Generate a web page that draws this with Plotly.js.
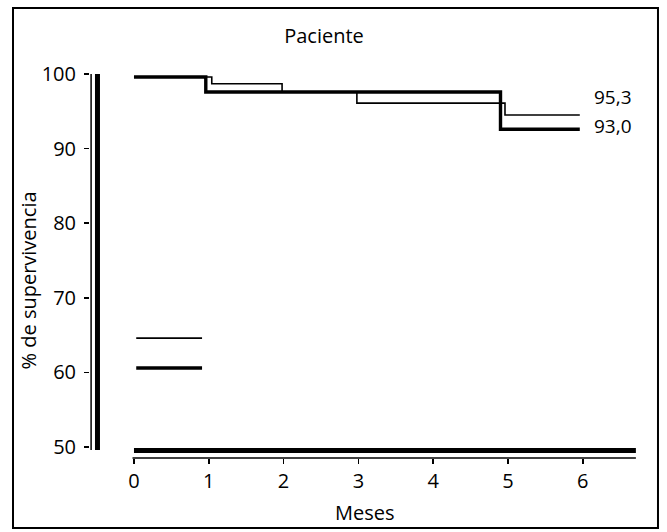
<!DOCTYPE html>
<html>
<head>
<meta charset="utf-8">
<script src="https://cdn.plot.ly/plotly-3.0.1.min.js"></script>
<style>html,body{margin:0;padding:0;background:#fff;}#chart{width:667px;height:532px;}</style>
</head>
<body>
<div id="chart"></div>
<script>
// ---- data ----
var xTicks = [0, 1, 2, 3, 4, 5, 6];
var yTicks = [50, 60, 70, 80, 90, 100];

// thin curve (ends 95,3)
var thinX = [0, 1.04, 1.98, 2.98, 4.96, 5.96];
var thinY = [99.6, 98.7, 97.6, 96.1, 94.5, 94.5];

// thick curve (ends 93,0)
var thickX = [0, 0.96, 4.90, 5.96];
var thickY = [99.6, 97.6, 92.6, 92.6];

// legend sample lines (no text)
var keyX = [0.03, 0.91];
var keyThinY = [64.6, 64.6];
var keyThickY = [60.6, 60.6];

var endLabels = ['95,3', '93,0'];
var endLabelY = [96.9, 93.0];

var titleText = 'Paciente';
var xTitle = 'Meses';
var yTitle = '% de supervivencia';

var FONT = '"Open Sans", Lato, sans-serif';
var FS = 20;

var traces = [
  {x: thinX, y: thinY, mode: 'lines', line: {shape: 'hv', color: '#000', width: 1.6}, hoverinfo: 'skip'},
  {x: thickX, y: thickY, mode: 'lines', line: {shape: 'hv', color: '#000', width: 3.4}, hoverinfo: 'skip'},
  {x: keyX, y: keyThinY, mode: 'lines', line: {color: '#000', width: 1.6}, hoverinfo: 'skip'},
  {x: keyX, y: keyThickY, mode: 'lines', line: {color: '#000', width: 3.4}, hoverinfo: 'skip'}
];

var annotations = [
  {text: endLabels[0], x: 6.14, y: endLabelY[0], xref: 'x', yref: 'y', xanchor: 'left', yanchor: 'middle', showarrow: false, borderpad: 0, font: {family: FONT, size: 19, color: '#000'}},
  {text: endLabels[1], x: 6.14, y: endLabelY[1], xref: 'x', yref: 'y', xanchor: 'left', yanchor: 'middle', showarrow: false, borderpad: 0, font: {family: FONT, size: 19, color: '#000'}},
  {text: yTitle, x: -0.112, y: 0.447, xref: 'paper', yref: 'paper', textangle: -90, xanchor: 'center', yanchor: 'middle', showarrow: false, font: {family: FONT, size: FS, color: '#000'}},
  {text: xTitle, x: 0.5, y: -0.138, xref: 'paper', yref: 'paper', xanchor: 'center', yanchor: 'middle', showarrow: false, font: {family: FONT, size: FS, color: '#000'}}
];

var shapes = [
  // frame
  {type: 'rect', xref: 'paper', yref: 'paper', x0: -0.14, x1: 1.0327, y0: -0.176, y1: 1.1307, line: {color: '#000', width: 2}},
  // y axis: thin line + thick bar
  {type: 'line', xref: 'paper', yref: 'y', x0: 0.002, x1: 0.002, y0: 49.6, y1: 100, line: {color: '#000', width: 1.5}},
  {type: 'line', xref: 'paper', yref: 'y', x0: 0.0136, x1: 0.0136, y0: 49.6, y1: 100, line: {color: '#000', width: 5}},
  // x axis: thin line + thick bar
  {type: 'line', xref: 'x', yref: 'paper', x0: -0.02, x1: 6.71, y0: 0, y1: 0, line: {color: '#000', width: 1.5}},
  {type: 'line', xref: 'x', yref: 'paper', x0: 0, x1: 6.71, y0: 0.0188, y1: 0.0188, line: {color: '#000', width: 5}}
];

var layout = {
  width: 667, height: 532,
  margin: {l: 90, r: 27, t: 60, b: 74},
  paper_bgcolor: '#fff', plot_bgcolor: '#fff',
  showlegend: false,
  font: {family: FONT, color: '#000', size: FS},
  title: {text: titleText, xref: 'paper', x: 0.4255, yref: 'container', y: 0.932, xanchor: 'center', yanchor: 'middle', font: {family: FONT, size: FS, color: '#000'}},
  xaxis: {range: [-0.588, 6.765], tickvals: xTicks, ticktext: xTicks.map(String), ticks: 'outside', ticklen: 5, tickwidth: 1.5, tickcolor: '#000',
          showline: false, showgrid: false, zeroline: false, tickfont: {family: FONT, size: FS, color: '#000'}, fixedrange: true},
  yaxis: {range: [48.53, 101.88], tickvals: yTicks, ticktext: yTicks.map(String), ticks: 'outside', ticklen: 5, tickwidth: 1.5, tickcolor: '#000',
          showline: false, showgrid: false, zeroline: false, tickfont: {family: FONT, size: FS, color: '#000'}, ticklabelstandoff: 4, fixedrange: true},
  shapes: shapes,
  annotations: annotations
};

Plotly.newPlot('chart', traces, layout, {staticPlot: true, displayModeBar: false});
</script>
</body>
</html>
